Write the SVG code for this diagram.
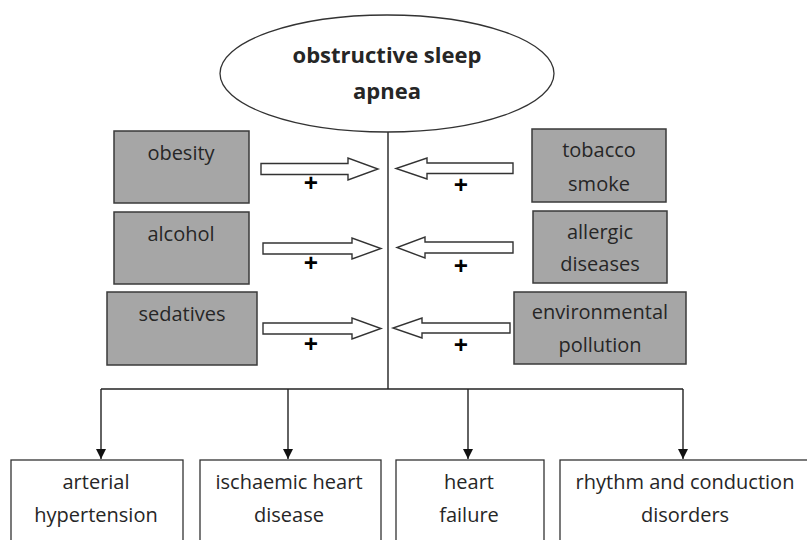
<svg xmlns="http://www.w3.org/2000/svg" width="807" height="540" viewBox="0 0 807 540">
<defs>
<style>
.t{font-family:"Open Sans","DejaVu Sans",sans-serif;font-size:20px;fill:#262626;text-anchor:middle}
.b{font-weight:bold;font-size:22px}
.p{font-family:"Open Sans","DejaVu Sans",sans-serif;font-weight:bold;font-size:25px;fill:#000;text-anchor:middle}
.g{fill:#a6a6a6;stroke:#3a3a3a;stroke-width:1.5}
.w{fill:#fff;stroke:#333;stroke-width:1.3}
.ln{fill:none;stroke:#222;stroke-width:1.4}
.ba{fill:#fff;stroke:#333;stroke-width:1.4}
</style>
<marker id="ah" viewBox="0 0 10 10" refX="10" refY="5" markerWidth="10" markerHeight="10" markerUnits="userSpaceOnUse" orient="auto">
<path d="M0,0 L10,5 L0,10 Z" fill="#111"/>
</marker>
</defs>
<rect width="807" height="540" fill="#fff"/>
<g id="connectors">
<path class="ln" d="M388,132 V389"/>
<path class="ln" d="M101,389 H683"/>
<path class="ln" d="M101,389 V459" marker-end="url(#ah)"/>
<path class="ln" d="M288,389 V459" marker-end="url(#ah)"/>
<path class="ln" d="M468,389 V459" marker-end="url(#ah)"/>
<path class="ln" d="M683,389 V459" marker-end="url(#ah)"/>
<path class="ba" d="M261,163.5 H348 V158 L378,169 L348,180 V174.5 H261 Z"/>
<path class="ba" d="M263,243 H352 V238 L381,248.5 L352,259 V254 H263 Z"/>
<path class="ba" d="M263,323 H352 V318 L381,328.5 L352,339 V334 H263 Z"/>
<path class="ba" d="M513,163 H427 V158 L396,168.5 L427,179 V173.5 H513 Z"/>
<path class="ba" d="M513,242 H425 V237 L397,247.5 L425,258 V253 H513 Z"/>
<path class="ba" d="M510,323 H422 V318 L393,328 L422,338 V333 H510 Z"/>
<text class="p" x="311" y="192">+</text>
<text class="p" x="311" y="272">+</text>
<text class="p" x="311" y="353">+</text>
<text class="p" x="461" y="194">+</text>
<text class="p" x="461" y="275">+</text>
<text class="p" x="461" y="354">+</text>
</g>
<g id="osa">
<ellipse class="w" cx="387" cy="73.5" rx="167" ry="58.5"/>
<text class="t b" x="387" y="63">obstructive sleep</text>
<text class="t b" x="387" y="99">apnea</text>
</g>
<g id="obesity">
<rect class="g" x="114" y="131" width="135" height="72"/>
<text class="t" x="181" y="160">obesity</text>
</g>
<g id="alcohol">
<rect class="g" x="114" y="212" width="135" height="72"/>
<text class="t" x="181" y="241">alcohol</text>
</g>
<g id="sedatives">
<rect class="g" x="107" y="292" width="150" height="73"/>
<text class="t" x="182" y="321">sedatives</text>
</g>
<g id="tobacco">
<rect class="g" x="532" y="129" width="134" height="73"/>
<text class="t" x="599" y="157">tobacco</text>
<text class="t" x="599" y="191">smoke</text>
</g>
<g id="allergic">
<rect class="g" x="533" y="211" width="134" height="72"/>
<text class="t" x="600" y="239">allergic</text>
<text class="t" x="600" y="271">diseases</text>
</g>
<g id="environmental">
<rect class="g" x="514" y="292" width="172" height="72"/>
<text class="t" x="600" y="319">environmental</text>
<text class="t" x="600" y="352">pollution</text>
</g>
<g id="hypertension">
<rect class="w" x="11" y="460" width="172" height="90"/>
<text class="t" x="96" y="489">arterial</text>
<text class="t" x="96" y="522">hypertension</text>
</g>
<g id="ischaemic">
<rect class="w" x="200" y="460" width="181" height="90"/>
<text class="t" x="289" y="489">ischaemic heart</text>
<text class="t" x="289" y="522">disease</text>
</g>
<g id="heartfailure">
<rect class="w" x="396" y="460" width="148" height="90"/>
<text class="t" x="469" y="489">heart</text>
<text class="t" x="469" y="522">failure</text>
</g>
<g id="rhythm">
<rect class="w" x="560" y="460" width="260" height="90"/>
<text class="t" x="685" y="489">rhythm and conduction</text>
<text class="t" x="685" y="522">disorders</text>
</g>
</svg>
